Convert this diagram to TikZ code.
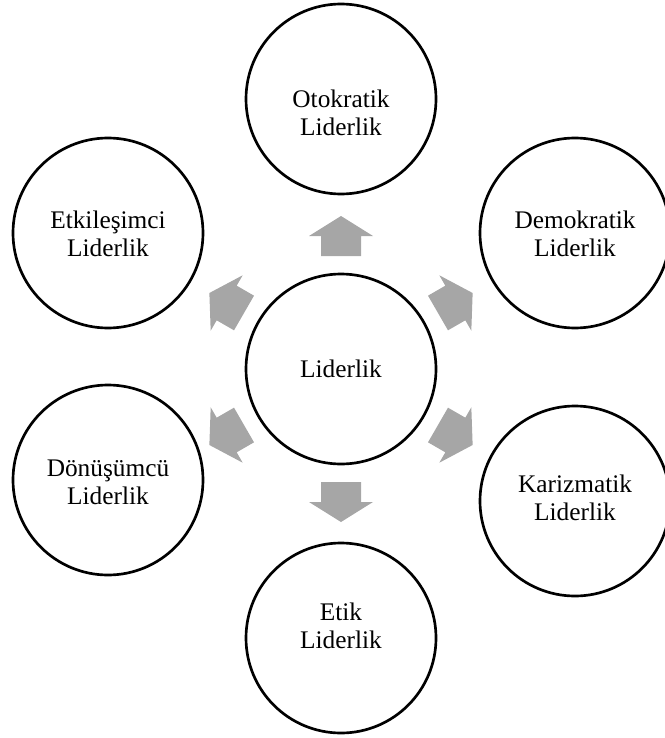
\documentclass[tikz,border=0pt]{standalone}
\usepackage{fontspec}
\setmainfont{Liberation Serif}
\usetikzlibrary{calc}
\definecolor{arrowgray}{RGB}{166,166,166}
\tikzset{
  typecircle/.style={circle, draw=black, line width=2pt, minimum size=142.5pt, inner sep=0pt},
  typetext/.style={align=center, inner sep=0pt, font=\fontsize{19}{21}\selectfont},
  blockarrow/.pic={\fill[arrowgray] (-20,-20) -- (0,-20) -- (0,-32) -- (20,0) -- (0,32) -- (0,20) -- (-20,20) -- cycle;}
}
\begin{document}
\begin{tikzpicture}[x=0.75pt,y=0.75pt,yscale=-1,xscale=1]
        \useasboundingbox (0,0) rectangle (664,738);

        %Shape: Circle, centre
        \node [typecircle, typetext] (lead) at (341,369) {Liderlik};
        %Shape: Circle, outer ring
        \node [typecircle] (otok) at (341,99) {};
        \node [typecircle] (demo) at (575,233) {};
        \node [typecircle] (kari) at (575,501) {};
        \node [typecircle] (etik) at (341,638) {};
        \node [typecircle] (donu) at (108,480) {};
        \node [typecircle] (etki) at (108,233) {};

        % Text Node
        \node [typetext] (otoktxt) at (341,113) {Otokratik\\Liderlik};
        \node [typetext] (demotxt) at (575,234) {Demokratik\\Liderlik};
        \node [typetext] (karitxt) at (575,498) {Karizmatik\\Liderlik};
        \node [typetext] (etiktxt) at (341,626) {Etik\\Liderlik};
        \node [typetext] (donutxt) at (108,482) {Dönüşümcü\\Liderlik};
        \node [typetext] (etkitxt) at (108,234) {Etkileşimci\\Liderlik};

        %Block arrows
        \pic [rotate=90]   at ($(lead)+(-90:133)$) {blockarrow};
        \pic [rotate=30]   at ($(lead)+(-30:132)$) {blockarrow};
        \pic [rotate=-30]  at ($(lead)+(30:132)$)  {blockarrow};
        \pic [rotate=-90]  at ($(lead)+(90:133)$)  {blockarrow};
        \pic [rotate=-150] at ($(lead)+(150:132)$) {blockarrow};
        \pic [rotate=-210] at ($(lead)+(210:132)$) {blockarrow};
    \end{tikzpicture}
\end{document}
